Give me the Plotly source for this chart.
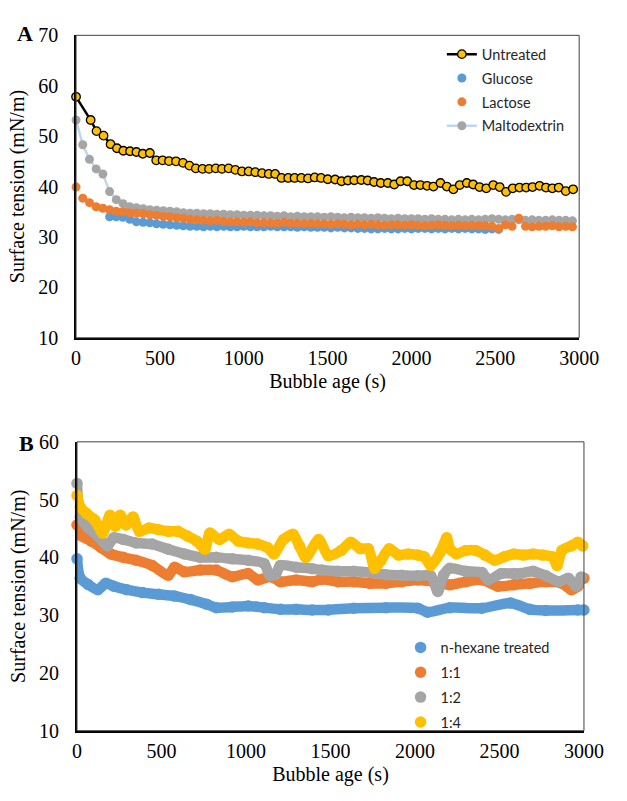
import plotly.graph_objects as go

# ---------------- Panel A data ----------------
t_untreated = [0, 87, 122, 164, 206, 244, 282, 322, 360, 398,
               440, 478, 516, 554, 596, 638, 676, 714, 754, 793,
               833, 870, 910, 950, 989, 1029, 1069, 1109, 1149, 1187,
               1225, 1265, 1303, 1343, 1383, 1423, 1461, 1501, 1545, 1583,
               1621, 1659, 1701, 1739, 1777, 1817, 1859, 1897, 1935, 1975,
               2015, 2053, 2093, 2131, 2173, 2211, 2250, 2288, 2330, 2368,
               2406, 2446, 2488, 2526, 2564, 2604, 2644, 2684, 2722, 2764,
               2802, 2840, 2878, 2920, 2964]
untreated = [57.8, 53.2, 51.0, 50.1, 48.4, 47.6, 47.1, 47.0, 46.85, 46.5,
             46.65, 45.2, 45.2, 45.05, 45.0, 44.7, 44.15, 43.6, 43.5, 43.5,
             43.6, 43.5, 43.6, 43.3, 43.0, 43.0, 42.85, 42.65, 42.5, 42.5,
             41.7, 41.7, 41.7, 41.7, 41.6, 41.8, 41.7, 41.45, 41.4, 41.05,
             41.2, 41.25, 41.3, 41.2, 40.9, 40.7, 40.7, 40.4, 41.05, 41.05,
             40.3, 40.3, 40.15, 40.0, 40.7, 40.0, 39.45, 40.3, 40.7, 40.4,
             39.9, 39.65, 40.3, 39.9, 38.95, 39.65, 39.8, 39.8, 39.9, 40.15,
             39.8, 39.65, 39.8, 39.1, 39.45]

t_a = [0, 40, 80, 120, 160, 200, 240, 280, 320, 360,
       400, 440, 480, 520, 560, 600, 640, 680, 720, 760,
       800, 840, 880, 920, 960, 1000, 1040, 1080, 1120, 1160,
       1200, 1240, 1280, 1320, 1360, 1400, 1440, 1480, 1520, 1560,
       1600, 1640, 1680, 1720, 1760, 1800, 1840, 1880, 1920, 1960,
       2000, 2040, 2080, 2120, 2160, 2200, 2240, 2280, 2320, 2360,
       2400, 2440, 2480, 2520, 2560, 2600, 2640, 2680, 2720, 2760,
       2800, 2840, 2880, 2920, 2960]
maltodextrin = [53.2, 48.3, 45.4, 43.5, 42.5, 39.0, 37.4, 36.6, 36.0, 35.8,
                35.6, 35.4, 35.3, 35.2, 35.1, 35.0, 34.8, 34.7, 34.7, 34.6,
                34.6, 34.5, 34.5, 34.4, 34.4, 34.3, 34.3, 34.3, 34.2, 34.2,
                34.1, 34.2, 34.0, 34.1, 34.0, 34.0, 34.0, 33.9, 34.0, 33.9,
                33.8, 33.9, 33.8, 33.8, 33.7, 33.8, 33.7, 33.6, 33.7, 33.6,
                33.6, 33.6, 33.5, 33.6, 33.5, 33.5, 33.4, 33.5, 33.4, 33.5,
                33.4, 33.5, 33.6, 33.5, 33.4, 33.5, 33.4, 33.3, 33.4, 33.3,
                33.3, 33.4, 33.3, 33.3, 33.2]
lactose = [39.9, 37.7, 36.8, 36.0, 35.7, 35.4, 35.1, 35.0, 34.8, 34.7,
           34.6, 34.4, 34.3, 34.1, 34.0, 33.8, 33.7, 33.5, 33.4, 33.3,
           33.2, 33.3, 33.1, 33.0, 33.0, 32.9, 33.0, 32.8, 32.8, 32.8,
           32.7, 32.9, 32.7, 32.7, 32.6, 32.7, 32.6, 32.6, 32.5, 32.6,
           32.5, 32.4, 32.5, 32.4, 32.5, 32.4, 32.3, 32.4, 32.4, 32.3,
           32.4, 32.3, 32.2, 32.3, 32.4, 32.3, 32.2, 32.3, 32.2, 32.3,
           32.2, 32.2, 32.1, 31.7, 32.4, 32.1, 33.7, 32.1, 32.0, 32.1,
           32.1, 32.2, 32.0, 32.1, 32.0]
t_glucose = t_a[5:64]
glucose = [34.0, 34.0, 33.9, 33.5, 33.0, 32.9, 32.8, 32.6, 32.5, 32.4,
           32.3, 32.2, 32.1, 32.1, 32.0, 32.1, 32.0, 32.1, 32.0, 32.0,
           32.1, 32.0, 32.0, 32.0, 32.1, 32.0, 32.0, 32.0, 31.9, 32.0,
           31.9, 31.9, 31.9, 31.8, 31.9, 31.8, 31.8, 31.7, 31.7, 31.6,
           31.6, 31.7, 31.6, 31.6, 31.7, 31.6, 31.7, 31.7, 31.6, 31.7,
           31.6, 31.7, 31.6, 31.7, 31.6, 31.6, 31.5, 31.6, 31.5]

# ---------------- Panel B data ----------------
t_hex = [0, 19, 66, 123, 170, 218, 294, 388, 483, 578, 672, 767, 824, 919, 1013,
         1108, 1203, 1297, 1392, 1487, 1638, 1828, 2017, 2074, 2206, 2396, 2566,
         2680, 2775, 2964, 3000]
hexane = [39.75, 36.4, 35.3, 34.4, 35.5, 35.0, 34.4, 33.9, 33.6, 33.3, 32.7, 31.9, 31.3,
          31.4, 31.6, 31.3, 31.0, 31.0, 30.9, 30.9, 31.2, 31.3, 31.2, 30.5, 31.3, 31.2,
          32.1, 31.0, 30.8, 30.9, 30.9]

t_11 = [0, 28, 85, 142, 199, 274, 350, 445, 540, 578, 635, 729, 824, 919, 1013, 1070,
        1146, 1203, 1297, 1392, 1449, 1544, 1638, 1733, 1828, 1922, 2017, 2112, 2206,
        2301, 2396, 2490, 2585, 2680, 2775, 2870, 2926, 2964, 3000]
r11 = [45.6, 43.7, 42.8, 41.7, 40.6, 40.0, 39.5, 38.6, 36.9, 38.3, 37.5, 37.8, 37.8,
       36.65, 37.2, 36.1, 36.65, 35.8, 36.1, 35.8, 36.2, 35.8, 35.8, 35.5, 35.5, 35.8,
       36.1, 35.8, 35.25, 35.8, 36.1, 35.0, 35.25, 35.5, 35.8, 35.5, 34.4, 35.0, 36.4]

t_12 = [0, 19, 66, 123, 180, 218, 274, 350, 445, 540, 635, 729, 824, 919, 1013, 1108,
        1140, 1175, 1203, 1297, 1392, 1449, 1544, 1638, 1733, 1828, 1922, 2017, 2093,
        2135, 2169, 2206, 2301, 2396, 2434, 2510, 2585, 2623, 2699, 2775, 2851, 2907,
        2955, 2983]
r12 = [52.8, 47.0, 45.1, 43.7, 42.0, 43.4, 43.1, 42.5, 42.3, 41.4, 40.6, 40.0, 40.0,
       39.75, 39.5, 38.9, 36.9, 37.0, 38.6, 38.3, 38.05, 37.8, 37.6, 37.6, 37.4, 37.0,
       36.9, 36.8, 36.8, 34.1, 36.9, 38.1, 37.6, 37.4, 36.1, 37.2, 37.2, 37.2, 37.6,
       36.8, 35.8, 36.4, 35.0, 36.6]

t_14 = [0, 19, 57, 104, 152, 195, 227, 256, 290, 331, 369, 426, 483, 540, 597, 653,
        710, 757, 786, 843, 900, 956, 1013, 1070, 1127, 1165, 1222, 1278, 1316, 1354,
        1430, 1487, 1563, 1620, 1676, 1724, 1761, 1799, 1847, 1904, 1960, 2017, 2055,
        2093, 2150, 2188, 2206, 2244, 2301, 2358, 2415, 2472, 2528, 2585, 2642, 2699,
        2756, 2813, 2841, 2870, 2926, 2964, 2993]
r14 = [50.7, 48.7, 47.6, 46.5, 44.2, 47.3, 45.4, 47.3, 45.6, 47.0, 44.5, 45.1, 44.8,
       44.5, 44.5, 43.7, 42.8, 41.4, 44.2, 43.1, 44.0, 42.8, 42.5, 42.3, 41.7, 40.6,
       43.1, 44.0, 42.0, 40.0, 43.1, 40.3, 41.2, 42.6, 41.5, 41.5, 38.1, 39.5, 41.5,
       40.4, 40.6, 40.4, 40.1, 38.6, 40.9, 43.4, 41.5, 40.6, 41.2, 41.2, 40.4, 39.5,
       40.1, 40.6, 40.4, 40.6, 40.4, 40.1, 38.6, 41.2, 42.0, 42.6, 42.0]

# ---------------- styling ----------------
BLUE, ORANGE, GRAY, YELLOW = "#5B9BD5", "#ED7D31", "#A5A5A5", "#FFC000"
SERIF = "Liberation Serif, Times New Roman, serif"
SANS = "Lato, Carlito, sans-serif"

fig = go.Figure()

# Panel A
fig.add_trace(go.Scatter(x=t_a, y=maltodextrin, name="Maltodextrin", mode="lines+markers",
                         line=dict(color="#BDD7EE", width=2.5),
                         marker=dict(color=GRAY, size=9), cliponaxis=False,
                         legend="legend", legendgroup="m", legendrank=4))
fig.add_trace(go.Scatter(x=t_glucose, y=glucose, name="Glucose", mode="markers",
                         marker=dict(color=BLUE, size=9), cliponaxis=False,
                         legend="legend", legendgroup="g", legendrank=2))
fig.add_trace(go.Scatter(x=t_a, y=lactose, name="Lactose", mode="markers",
                         marker=dict(color=ORANGE, size=9), cliponaxis=False,
                         legend="legend", legendgroup="l", legendrank=3))
fig.add_trace(go.Scatter(x=t_untreated, y=untreated, name="Untreated", mode="lines+markers",
                         line=dict(color="black", width=2.5),
                         marker=dict(color=YELLOW, size=8.5, line=dict(color="black", width=1.3)),
                         cliponaxis=False,
                         legend="legend", legendgroup="u", legendrank=1))

# Panel B
seriesB = [("n-hexane treated", t_hex, hexane, BLUE),
           ("1:1", t_11, r11, ORANGE),
           ("1:2", t_12, r12, GRAY),
           ("1:4", t_14, r14, YELLOW)]
for i, (name, tx, ty, col) in enumerate(seriesB):
    fig.add_trace(go.Scatter(x=tx, y=ty, mode="lines",
                             line=dict(color=col, width=10.5, shape="spline", smoothing=0.7),
                             showlegend=False, xaxis="x2", yaxis="y2", cliponaxis=False,
                             hoverinfo="skip"))
    fig.add_trace(go.Scatter(x=tx, y=ty, name=name, mode="markers",
                             marker=dict(color=col, size=11.5), xaxis="x2", yaxis="y2",
                             cliponaxis=False, legend="legend2", legendgroup="b%d" % i,
                             legendrank=i + 1))

W, H = 627, 801
def px_x(p):
    return p / W
def px_y(p):
    return 1 - p / H

tickfont = dict(family=SERIF, size=20, color="black")
titlefont = dict(family=SERIF, size=20, color="black")
axis_common = dict(showline=True, linecolor="black", linewidth=1.8, ticks="",
                   showgrid=False, zeroline=False, tickfont=tickfont)

fig.update_layout(
    width=W, height=H, margin=dict(l=0, r=0, t=0, b=0),
    font=dict(family=SERIF, size=20, color="black"),
    paper_bgcolor="white", plot_bgcolor="white",
    xaxis=dict(domain=[px_x(74), px_x(598)], range=[0, 3000], tick0=0, dtick=500,
               anchor="y", title=dict(text="Bubble age (s)", font=titlefont, standoff=6),
               ticklabelstandoff=1, **axis_common),
    yaxis=dict(domain=[px_y(336), px_y(25)], range=[10, 70], tick0=10, dtick=10,
               anchor="x", title=dict(text="Surface tension (mN/m)", font=titlefont, standoff=8),
               ticklabelstandoff=12, **axis_common),
    xaxis2=dict(domain=[px_x(75), px_x(603)], range=[0, 3000], tick0=0, dtick=500,
                anchor="y2", title=dict(text="Bubble age (s)", font=titlefont, standoff=6),
                ticklabelstandoff=1, **axis_common),
    yaxis2=dict(domain=[px_y(740), px_y(443)], range=[10, 60], tick0=10, dtick=10,
                anchor="x2", title=dict(text="Surface tension (mN/m)", font=titlefont, standoff=8),
                ticklabelstandoff=12, **axis_common),
    legend=dict(x=px_x(455), xanchor="left", y=px_y(28), yanchor="top",
                font=dict(family=SANS, size=14.5, color="#262626"),
                bgcolor="rgba(0,0,0,0)", traceorder="grouped", tracegroupgap=2,
                itemwidth=30),
    legend2=dict(x=px_x(412), xanchor="left", y=px_y(638), yanchor="top",
                 font=dict(family=SANS, size=14.5, color="#262626"),
                 bgcolor="rgba(0,0,0,0)", traceorder="grouped", tracegroupgap=3,
                 itemwidth=30),
    showlegend=True,
    shapes=[
        dict(type="rect", xref="x domain", yref="y domain", x0=0, x1=1, y0=0, y1=1,
             line=dict(color="#404040", width=1), layer="above"),
        dict(type="rect", xref="x2 domain", yref="y2 domain", x0=0, x1=1, y0=0, y1=1,
             line=dict(color="#404040", width=1), layer="above"),
    ],
    annotations=[
        dict(text="<b>A</b>", x=px_x(21), y=px_y(23), xref="paper", yref="paper",
             xanchor="center", yanchor="middle",
             showarrow=False, font=dict(family=SERIF, size=22, color="black")),
        dict(text="<b>B</b>", x=px_x(22), y=px_y(445), xref="paper", yref="paper",
             xanchor="center", yanchor="middle",
             showarrow=False, font=dict(family=SERIF, size=22, color="black")),
    ],
)

fig.write_html("out.html")
